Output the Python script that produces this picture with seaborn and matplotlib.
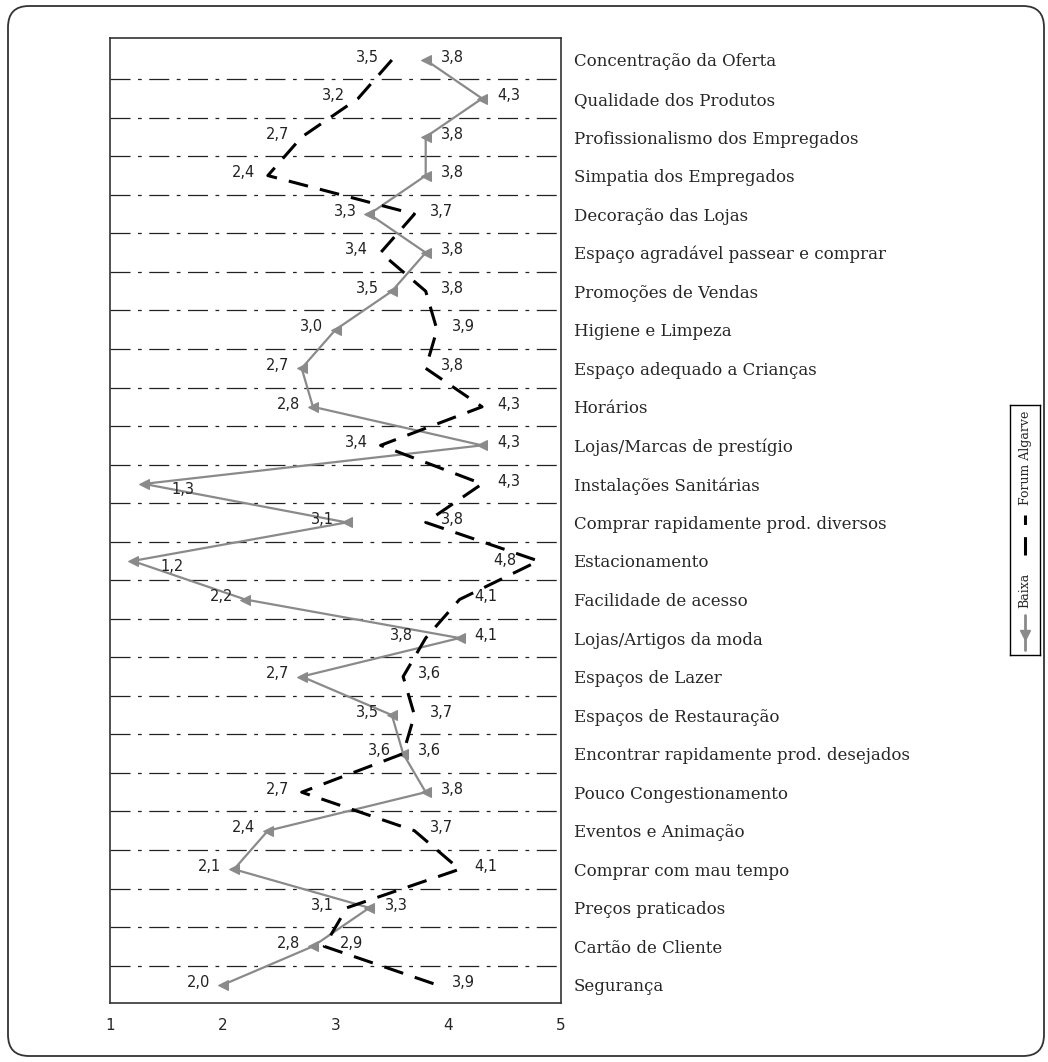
import numpy as np
import pandas as pd
import matplotlib
matplotlib.use("Agg")
import matplotlib.pyplot as plt
import seaborn as sns
from matplotlib.patches import FancyBboxPatch
from matplotlib.lines import Line2D

# data (top to bottom)
categories = [
    "Concentração da Oferta", "Qualidade dos Produtos", "Profissionalismo dos Empregados",
    "Simpatia dos Empregados", "Decoração das Lojas", "Espaço agradável passear e comprar",
    "Promoções de Vendas", "Higiene e Limpeza", "Espaço adequado a Crianças", "Horários",
    "Lojas/Marcas de prestígio", "Instalações Sanitárias", "Comprar rapidamente prod. diversos",
    "Estacionamento", "Facilidade de acesso", "Lojas/Artigos da moda", "Espaços de Lazer",
    "Espaços de Restauração", "Encontrar rapidamente prod. desejados", "Pouco Congestionamento",
    "Eventos e Animação", "Comprar com mau tempo", "Preços praticados", "Cartão de Cliente",
    "Segurança",
]
baixa = [3.8, 4.3, 3.8, 3.8, 3.3, 3.8, 3.5, 3.0, 2.7, 2.8, 4.3, 1.3, 3.1,
         1.2, 2.2, 4.1, 2.7, 3.5, 3.6, 3.8, 2.4, 2.1, 3.3, 2.8, 2.0]
forum = [3.5, 3.2, 2.7, 2.4, 3.7, 3.4, 3.8, 3.9, 3.8, 4.3, 3.4, 4.3, 3.8,
         4.8, 4.1, 3.8, 3.6, 3.7, 3.6, 2.7, 3.7, 4.1, 3.1, 2.9, 3.9]
x_ticks = [1, 2, 3, 4, 5]

df = pd.DataFrame({"pos": np.arange(len(categories)), "Baixa": baixa, "Forum Algarve": forum})

sns.set_style("white")
plt.rcParams["font.family"] = ["DejaVu Sans"]

fig = plt.figure(figsize=(10.48, 10.62), dpi=100)
ax = fig.add_axes([110 / 1048, 1 - 1003 / 1062, 451 / 1048, 965 / 1062])

gray = "#8a8a8a"
sns.lineplot(data=df, x="Baixa", y="pos", orient="y", color=gray, lw=1.6,
             marker="<", markersize=7, markeredgecolor=gray, ax=ax)
sns.lineplot(data=df, x="Forum Algarve", y="pos", orient="y", color="black", lw=2.2,
             dashes=False, ax=ax)
ax.lines[-1].set_dashes((6.5, 4))

# value labels: lower value to the left, higher to the right (ties: Baixa left)
lbl_kw = dict(textcoords="offset points", va="center", fontsize=10.5, color="#222222")
for i, (b, f) in enumerate(zip(baixa, forum)):
    for v, left in ((b, b <= f), (f, f < b)):
        lbl = f"{v:.1f}".replace(".", ",")
        if v < 1.5:
            ax.annotate(lbl, (v, i), xytext=(20, -4), ha="left", **lbl_kw)
        elif v > 4.6:
            ax.annotate(lbl, (v, i), xytext=(-16, 0), ha="right", **lbl_kw)
        elif left:
            ax.annotate(lbl, (v, i), xytext=(-9, 2), ha="right", **lbl_kw)
        else:
            ax.annotate(lbl, (v, i), xytext=(11, 2), ha="left", **lbl_kw)

ax.set_xlim(1, 5)
ax.set_ylim(len(categories) - 0.53, -0.57)
ax.set_xticks(x_ticks)
ax.set_xticklabels([str(t) for t in x_ticks], fontsize=11)
ax.tick_params(axis="x", direction="in", length=5, width=1, pad=11, color="#333333")

ax.set_yticks(np.arange(len(categories)))
ax.set_yticklabels(categories, fontfamily="DejaVu Serif", fontsize=12)
ax.yaxis.tick_right()
ax.tick_params(axis="y", length=0, pad=9)
ax.set_xlabel("")
ax.set_ylabel("")

for yb in np.arange(len(categories) - 1) + 0.5:
    ax.axhline(yb, color="#222222", lw=0.9, ls=(0, (16, 6, 3, 6)), zorder=0)

for s in ax.spines.values():
    s.set_color("#333333")
    s.set_linewidth(1.2)

# rotated legend box on the right
lax = fig.add_axes([1010 / 1048, 1 - 655 / 1062, 30 / 1048, 250 / 1062])
lax.set_xlim(0, 1)
lax.set_ylim(0, 250)
lax.set_xticks([])
lax.set_yticks([])
for s in lax.spines.values():
    s.set_color("black")
    s.set_linewidth(1)
lax.add_line(Line2D([0.5, 0.5], [5, 40], color=gray, lw=2))
lax.plot([0.5], [20], marker="v", color=gray, markersize=7)
lax.text(0.5, 47, "Baixa", rotation=90, ha="center", va="bottom",
         fontfamily="DejaVu Serif", fontsize=9)
lax.add_line(Line2D([0.5, 0.5], [100, 140], color="black", lw=2.2, dashes=(6, 4)))
lax.text(0.5, 150, "Forum Algarve", rotation=90, ha="center", va="bottom",
         fontfamily="DejaVu Serif", fontsize=9)

# outer rounded frame
frame = FancyBboxPatch((8 / 1048, 6 / 1062), 1036 / 1048, 1050 / 1062,
                       boxstyle="round,pad=0,rounding_size=0.02",
                       transform=fig.transFigure, fill=False,
                       edgecolor="#333333", lw=1.3)
fig.patches.append(frame)

fig.savefig("out.png", dpi=100)
